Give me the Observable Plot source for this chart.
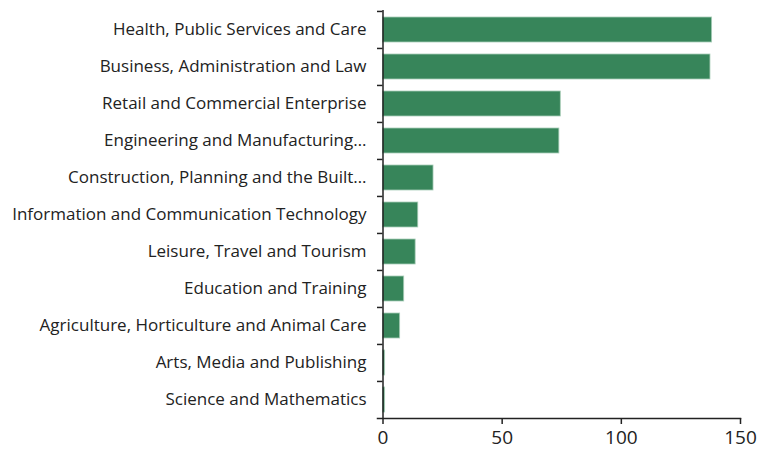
<!DOCTYPE html>
<html>
<head>
<meta charset="utf-8">
<script src="https://cdn.jsdelivr.net/npm/d3@7"></script>
<script src="https://cdn.jsdelivr.net/npm/@observablehq/plot@0.6"></script>
<style>
  html, body { margin: 0; padding: 0; background: #fff; }
  #chart svg { display: block; }
</style>
</head>
<body>
<div id="chart"></div>
<script>
const categories = [
  "Health, Public Services and Care",
  "Business, Administration and Law",
  "Retail and Commercial Enterprise",
  "Engineering and Manufacturing…",
  "Construction, Planning and the Built…",
  "Information and Communication Technology",
  "Leisure, Travel and Tourism",
  "Education and Training",
  "Agriculture, Horticulture and Animal Care",
  "Arts, Media and Publishing",
  "Science and Mathematics"
];
const values = [138.1, 137.4, 74.6, 74.0, 21.2, 14.8, 13.7, 8.9, 7.2, 0.9, 0.9];
const xTicks = [0, 50, 100, 150];

const data = categories.map((c, i) => ({category: c, value: values[i]}));

const W = 759, H = 454;
const mTop = 10, mBottom = 36, mLeft = 377, mRight = 19;
const step = (H - mTop - mBottom) / categories.length;
const font = "'Open Sans', sans-serif";

const chart = Plot.plot({
  width: W,
  height: H,
  marginTop: mTop,
  marginBottom: mBottom,
  marginLeft: mLeft,
  marginRight: mRight,
  style: {fontFamily: font, background: "#fff", color: "#222"},
  x: {domain: [0, 150], insetLeft: 5.5, ticks: xTicks},
  y: {domain: categories, paddingInner: 0.33, paddingOuter: 0.165},
  marks: [
    Plot.barX(data, {y: "category", x: "value", fill: "#37855a", stroke: "#a9cdb8", strokeWidth: 0.8}),
    Plot.axisY({tickSize: 0, tickPadding: 11, fontSize: 17, label: null}),
    Plot.axisY({tickSize: 5.5, tickFormat: () => "", dx: 5.5, dy: -step / 2, label: null, stroke: "#222", strokeWidth: 1.5}),
    Plot.axisX({ticks: xTicks, tickSize: 6, tickPadding: 6, fontSize: 19, label: null, stroke: "#222", strokeWidth: 1.5}),
    Plot.frame({anchor: "bottom", stroke: "#222", strokeWidth: 1.5}),
    Plot.ruleX([0], {stroke: "#222", strokeWidth: 1.5})
  ]
});
document.getElementById("chart").appendChild(chart);
</script>
</body>
</html>
